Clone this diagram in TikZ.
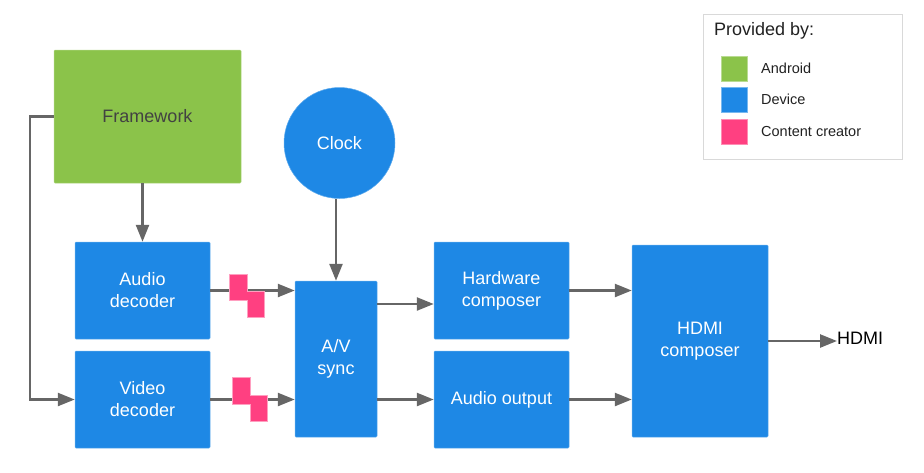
\documentclass[tikz,border=0pt]{standalone}
\usepackage{fontspec}
\setmainfont{Liberation Sans}
\usetikzlibrary{arrows.meta,calc}
\definecolor{agreen}{HTML}{8BC34A}
\definecolor{ablue}{HTML}{1E88E5}
\definecolor{apink}{HTML}{FF4081}
\definecolor{agray}{HTML}{666666}
\definecolor{fwtext}{HTML}{424242}
\definecolor{legtext}{HTML}{212121}
\tikzset{
  box/.style={fill=ablue, draw=ablue!70!white, line width=0.5pt, rounded corners=1pt, inner sep=0pt, text=white, align=center, font=\fontsize{18}{22}\selectfont},
  conn/.style={draw=agray, line width=2.5pt, -{Triangle[length=17pt,width=13pt]}},
  pinkpc/.style={fill=apink, draw=apink!50!white, line width=0.5pt},
  swatch/.style={draw=white!80!black, line width=0.5pt, minimum width=26pt, minimum height=25pt, inner sep=0pt},
  legitem/.style={anchor=west, text=legtext, font=\fontsize{14.5}{17}\selectfont, inner sep=0pt},
}
\begin{document}
\begin{tikzpicture}[x=1pt,y=-1pt]
\useasboundingbox (0,0) rectangle (924,472);
% nodes
\node[box, fill=agreen, draw=agreen!70!white, text=fwtext, minimum width=187pt, minimum height=133pt] (fw) at (147.5,116.5) {Framework};
\node[box, minimum width=135pt, minimum height=97pt] (adec) at (142.5,290.5) {Audio\\decoder};
\node[box, minimum width=135pt, minimum height=97pt] (vdec) at (142.5,399.5) {Video\\decoder};
\node[box, circle, minimum size=111pt, rounded corners=0pt] (clock) at (339.5,143) {Clock};
\node[box, minimum width=82pt, minimum height=156pt] (avs) at (336,359) {A/V\\sync};
\node[box, minimum width=135pt, minimum height=97pt] (hw) at (501.5,290.5) {Hardware\\composer};
\node[box, minimum width=135pt, minimum height=97pt] (aout) at (501.5,399.5) {Audio output};
\node[box, minimum width=136pt, minimum height=192pt] (hdmi) at (700,341) {HDMI\\composer};
\node[anchor=west, inner sep=0pt, font=\fontsize{18}{22}\selectfont] (hdmiout) at (837,338) {HDMI};
\coordinate (avsout) at (377,304);
% connectors
\draw[conn] (fw.south -| adec.north) -- (adec.north);
\draw[conn] (fw.west) -- ++(-24,0) |- (vdec.west);
\draw[conn] (clock.south -| avs.north) -- (avs.north);
\draw[conn] (adec.east) -- (adec.east -| avs.west);
\draw[conn] (vdec.east) -- (vdec.east -| avs.west);
\draw[conn] (avsout) -- (avsout -| hw.west);
\draw[conn] (aout.west -| avs.east) -- (aout.west);
\draw[conn] (hw.east) -- (hw.east -| hdmi.west);
\draw[conn] (aout.east) -- (aout.east -| hdmi.west);
\draw[conn] (hdmi.east) -- (hdmi.east -| hdmiout.west);
% content-creator pieces
\draw[pinkpc] (229,274) rectangle (247,300);
\draw[pinkpc] (247,291) rectangle (264,317);
\fill[apink] (246,291.5) rectangle (248,299.5);
\draw[pinkpc] (232,377) rectangle (250,404);
\draw[pinkpc] (250,395) rectangle (267,421);
\fill[apink] (249,395.5) rectangle (251,403.5);
% legend
\node[draw=white!85!black, line width=0.8pt, minimum width=199pt, minimum height=145pt, inner sep=0pt] (legend) at (802.5,86.5) {};
\node[anchor=west, inner sep=0pt, text=legtext, font=\fontsize{18}{22}\selectfont] (legtitle) at (714,31) {Provided by:};
\node[swatch, fill=agreen, draw=agreen!60!white] (swa) at (734,68.5) {};
\node[swatch, fill=ablue, draw=ablue!60!white] (swd) at (734,99.5) {};
\node[swatch, fill=apink, draw=apink!60!white] (swc) at (734,132) {};
\node[legitem] (la) at (761,68.5) {Android};
\node[legitem] (ld) at (761,99.5) {Device};
\node[legitem] (lc) at (761,132) {Content creator};
\end{tikzpicture}
\end{document}
